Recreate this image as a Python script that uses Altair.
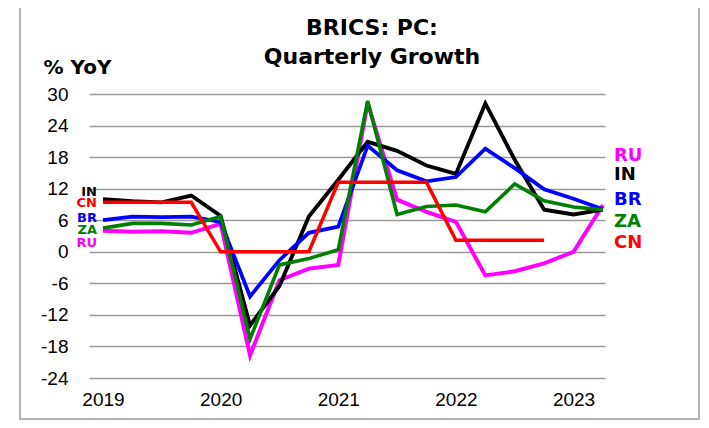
import altair as alt
import pandas as pd

quarters = list(range(18))  # 2019Q1 .. 2023Q2
year_ticks = [0, 4, 8, 12, 16]
y_ticks = [-24, -18, -12, -6, 0, 6, 12, 18, 24, 30]
title_lines = ["BRICS: PC:", "Quarterly Growth"]

IN = [10.0, 9.6, 9.4, 10.7, 6.8, -14.0, -6.5, 6.7, 13.7, 20.9, 19.2, 16.4, 14.8, 28.2, 17.5, 8.0, 7.1, 8.0]
BR = [6.0, 6.7, 6.6, 6.7, 5.7, -8.5, -1.6, 3.6, 4.8, 20.2, 15.5, 13.4, 14.2, 19.6, 15.9, 11.9, 10.1, 8.1]
ZA = [4.5, 5.4, 5.4, 5.1, 6.7, -16.6, -2.5, -1.3, 0.4, 28.7, 7.1, 8.6, 8.9, 7.6, 12.9, 9.7, 8.5, 8.0]
RU = [4.0, 3.8, 3.9, 3.6, 5.3, -19.7, -5.4, -3.2, -2.5, 28.3, 9.9, 7.6, 5.7, -4.5, -3.7, -2.2, 0.0, 8.9]
CN = [9.4, 9.4, 9.4, 9.4, 0.0, 0.0, 0.0, 0.0, 13.2, 13.2, 13.2, 13.2, 2.2, 2.2, 2.2, 2.2, None, None]

series_order = ["RU", "IN", "BR", "ZA", "CN"]
series_colors = ["#FF00FF", "#000000", "#0000FF", "#008000", "#FF0000"]
series_widths = [4, 3.5, 4, 4, 4]
values = {"RU": RU, "IN": IN, "BR": BR, "ZA": ZA, "CN": CN}

# label anchors (in data units)
left_label_names = ["IN", "CN", "BR", "ZA", "RU"]
left_label_y = [11.4, 9.3, 6.4, 4.1, 1.7]
right_label_names = ["RU", "IN", "BR", "ZA", "CN"]
right_label_y = [18.2, 14.6, 9.8, 5.7, 1.7]

rows = []
for s in series_order:
    for q, v in zip(quarters, values[s]):
        if v is not None:
            rows.append({"q": q, "v": v, "s": s})
df = pd.DataFrame(rows)

left_df = pd.DataFrame({"s": left_label_names, "v": left_label_y, "q": [quarters[0]] * 5})
right_df = pd.DataFrame({"s": right_label_names, "v": right_label_y, "q": [quarters[-1]] * 5})

BOLD_FONT = "DejaVu Sans"
W, H = 516, 284
xscale = alt.Scale(domain=[-0.476, 17.07], nice=False, zero=False)
yscale = alt.Scale(domain=[-24, 30], nice=False, zero=False)
cscale = alt.Scale(domain=series_order, range=series_colors)

x_axis = alt.Axis(values=year_ticks, labelExpr="'' + (2019 + datum.value / 4)", grid=False,
                  ticks=False, domain=False, labelFontSize=19, labelColor="black",
                  labelPadding=12, labelOverlap=False, title=None)
y_axis = alt.Axis(values=y_ticks, labelExpr="'' + datum.value", grid=True,
                  gridColor="#999999", gridWidth=1.5, ticks=False, domain=False,
                  labelFontSize=19, labelColor="black", labelPadding=21,
                  labelOverlap=False, labelBound=False,
                  title="% YoY", titleAngle=0, titleFont=BOLD_FONT,
                  titleAlign="left", titleBaseline="alphabetic", titleX=-46, titleY=-21,
                  titleFontSize=20, titleFontWeight="bold", titleColor="black")


def xenc():
    return alt.X("q:Q", scale=xscale, axis=x_axis)


def yenc():
    return alt.Y("v:Q", scale=yscale, axis=y_axis)


lines = alt.Chart(df).mark_line(strokeJoin="miter", clip=False).encode(
    x=xenc(), y=yenc(),
    color=alt.Color("s:N", scale=cscale, legend=None),
    strokeWidth=alt.StrokeWidth("s:N", scale=alt.Scale(domain=series_order, range=series_widths), legend=None),
    detail="s:N",
)

left_labels = alt.Chart(left_df).mark_text(align="right", baseline="middle", dx=-6, font=BOLD_FONT,
                                            fontSize=13, fontWeight="bold").encode(
    x=xenc(), y=yenc(), text="s:N",
    color=alt.Color("s:N", scale=cscale, legend=None))

right_labels = alt.Chart(right_df).mark_text(align="left", baseline="middle", dx=11, font=BOLD_FONT,
                                              fontSize=18, fontWeight="bold").encode(
    x=xenc(), y=yenc(), text="s:N",
    color=alt.Color("s:N", scale=cscale, legend=None))

frame = alt.Chart(pd.DataFrame({"a": [0]})).mark_rect(
    fill="transparent", stroke="#9a9a9a", strokeWidth=1.5).encode(
    x=alt.value(-69), x2=alt.value(610), y=alt.value(-90), y2=alt.value(325))

title1 = alt.Chart(pd.DataFrame({"t": [title_lines[0]]})).mark_text(
    align="center", baseline="alphabetic", font=BOLD_FONT, fontSize=22, fontWeight="bold",
    color="black").encode(x=alt.value(283), y=alt.value(-59), text="t:N")
title2 = alt.Chart(pd.DataFrame({"t": [title_lines[1]]})).mark_text(
    align="center", baseline="alphabetic", font=BOLD_FONT, fontSize=22, fontWeight="bold",
    color="black").encode(x=alt.value(283), y=alt.value(-30), text="t:N")

chart = alt.layer(lines, left_labels, right_labels, frame, title1, title2).properties(
    width=W, height=H,
    autosize=alt.AutoSizeParams(type="none"),
    padding={"left": 81, "top": 86, "right": 95, "bottom": 42},
).configure(font="Liberation Sans").configure_view(stroke=None)

chart.save("out.html", embed_options={"renderer": "svg", "actions": False})
